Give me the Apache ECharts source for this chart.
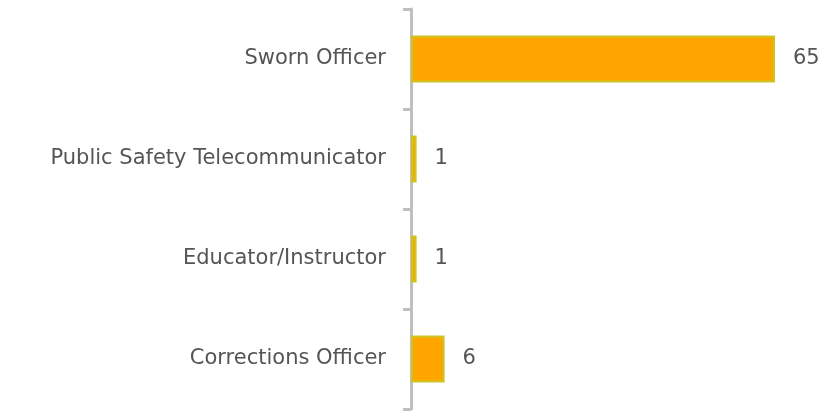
<!DOCTYPE html>
<html>
<head>
<meta charset="utf-8">
<script src="https://cdn.jsdelivr.net/npm/echarts@6/dist/echarts.min.js"></script>
<style>
html, body { margin: 0; padding: 0; background: #fff; }
#main { width: 823px; height: 413px; }
</style>
</head>
<body>
<div id="main"></div>
<script>
var categories = ['Sworn Officer', 'Public Safety Telecommunicator', 'Educator/Instructor', 'Corrections Officer']
var values = [65, 1, 1, 6]

var chart = echarts.init(document.getElementById('main'))

chart.setOption({
    animation: false,
    grid: { left: 411, right: 48, top: 9, bottom: 4 },
    xAxis: {
        type: 'value',
        min: 0,
        max: 65,
        show: false
    },
    yAxis: {
        type: 'category',
        inverse: true,
        data: categories,
        axisLine: { lineStyle: { color: '#BFBFBF', width: 3 } },
        axisTick: { show: true, length: 8, lineStyle: { color: '#BFBFBF', width: 3 } },
        axisLabel: {
            margin: 25,
            color: '#555555',
            fontFamily: 'DejaVu Sans',
            fontSize: 21,
            padding: [3, 0, 0, 0]
        }
    },
    series: [{
        type: 'bar',
        data: values,
        barWidth: 47,
        itemStyle: {
            color: '#FFA500',
            borderColor: '#CCC524',
            borderWidth: 2
        },
        label: {
            show: true,
            position: 'right',
            distance: 18,
            color: '#555555',
            fontFamily: 'DejaVu Sans',
            fontSize: 21,
            padding: [3, 0, 0, 0]
        }
    }]
})
</script>
</body>
</html>
